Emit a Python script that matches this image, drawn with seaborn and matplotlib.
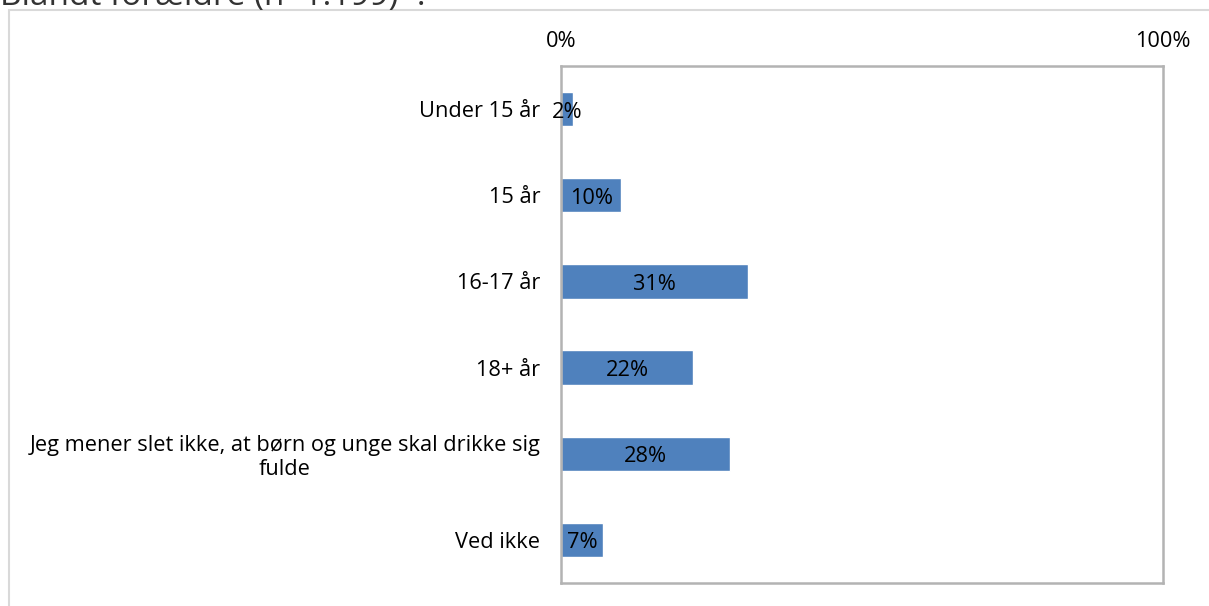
import matplotlib
matplotlib.use("Agg")
import matplotlib.pyplot as plt
import matplotlib.transforms as mtransforms
import seaborn as sns
import pandas as pd
from matplotlib.patches import Rectangle

# ── Data ──────────────────────────────────────────────────
categories = [
    "Under 15 år",
    "15 år",
    "16-17 år",
    "18+ år",
    "Jeg mener slet ikke, at børn og unge skal drikke sig\nfulde",
    "Ved ikke",
]
shares = [0.02, 0.10, 0.31, 0.22, 0.28, 0.07]
value_labels = ["2%", "10%", "31%", "22%", "28%", "7%"]
tick_values = [0, 1]
tick_labels = ["0%", "100%"]
title = "Blandt forældre (n=1.199)*:"

df = pd.DataFrame({"kategori": categories, "andel": shares})

sns.set_theme(style="white")
plt.rcParams["font.family"] = ["Open Sans", "DejaVu Sans"]
plt.rcParams["text.color"] = "black"
plt.rcParams["xtick.color"] = "black"
plt.rcParams["ytick.color"] = "black"

FS = 15.7

fig = plt.figure(figsize=(12.09, 6.06), dpi=100)
ax = fig.add_axes([561 / 1209, 1 - 583 / 606, 602 / 1209, 517 / 606])

sns.barplot(data=df, x="andel", y="kategori", color="#4F81BD",
            width=0.4, saturation=1, ax=ax)

# nudge labels a few pixels down, like the reference
shift = mtransforms.ScaledTranslation(0, -3 / 100, fig.dpi_scale_trans)
for patch, lab in zip(ax.patches, value_labels):
    cx = patch.get_x() + patch.get_width() / 2
    cy = patch.get_y() + patch.get_height() / 2
    ax.text(cx, cy, lab, ha="center", va="center", fontsize=FS, color="black",
            transform=ax.transData + shift)

ax.set_xlim(0, 1)
ax.set_xticks(tick_values)
ax.set_xticklabels(tick_labels, fontsize=FS)
ax.xaxis.tick_top()
ax.tick_params(axis="x", length=0, pad=10, colors="black")
ax.tick_params(axis="y", length=0, pad=15, colors="black")
for t in ax.get_yticklabels():
    t.set_fontsize(FS)
    t.set_multialignment("center")
ax.set_xlabel("")
ax.set_ylabel("")

for side in ["top", "right", "bottom", "left"]:
    ax.spines[side].set_visible(True)
    ax.spines[side].set_color("#B3B3B3")
    ax.spines[side].set_linewidth(1.8)

# outer chart frame (only top/left edges fall inside the picture)
fig.patches.append(Rectangle((9 / 1209, -0.05), 1.2, 1 - 10 / 606 + 0.05,
                             transform=fig.transFigure, fill=False,
                             edgecolor="#D9D9D9", linewidth=1.5, zorder=0))

fig.text(0.0, 1.006, title, ha="left", va="center", fontsize=24, color="#333333")

plt.savefig("out.png", dpi=100)
plt.close()
